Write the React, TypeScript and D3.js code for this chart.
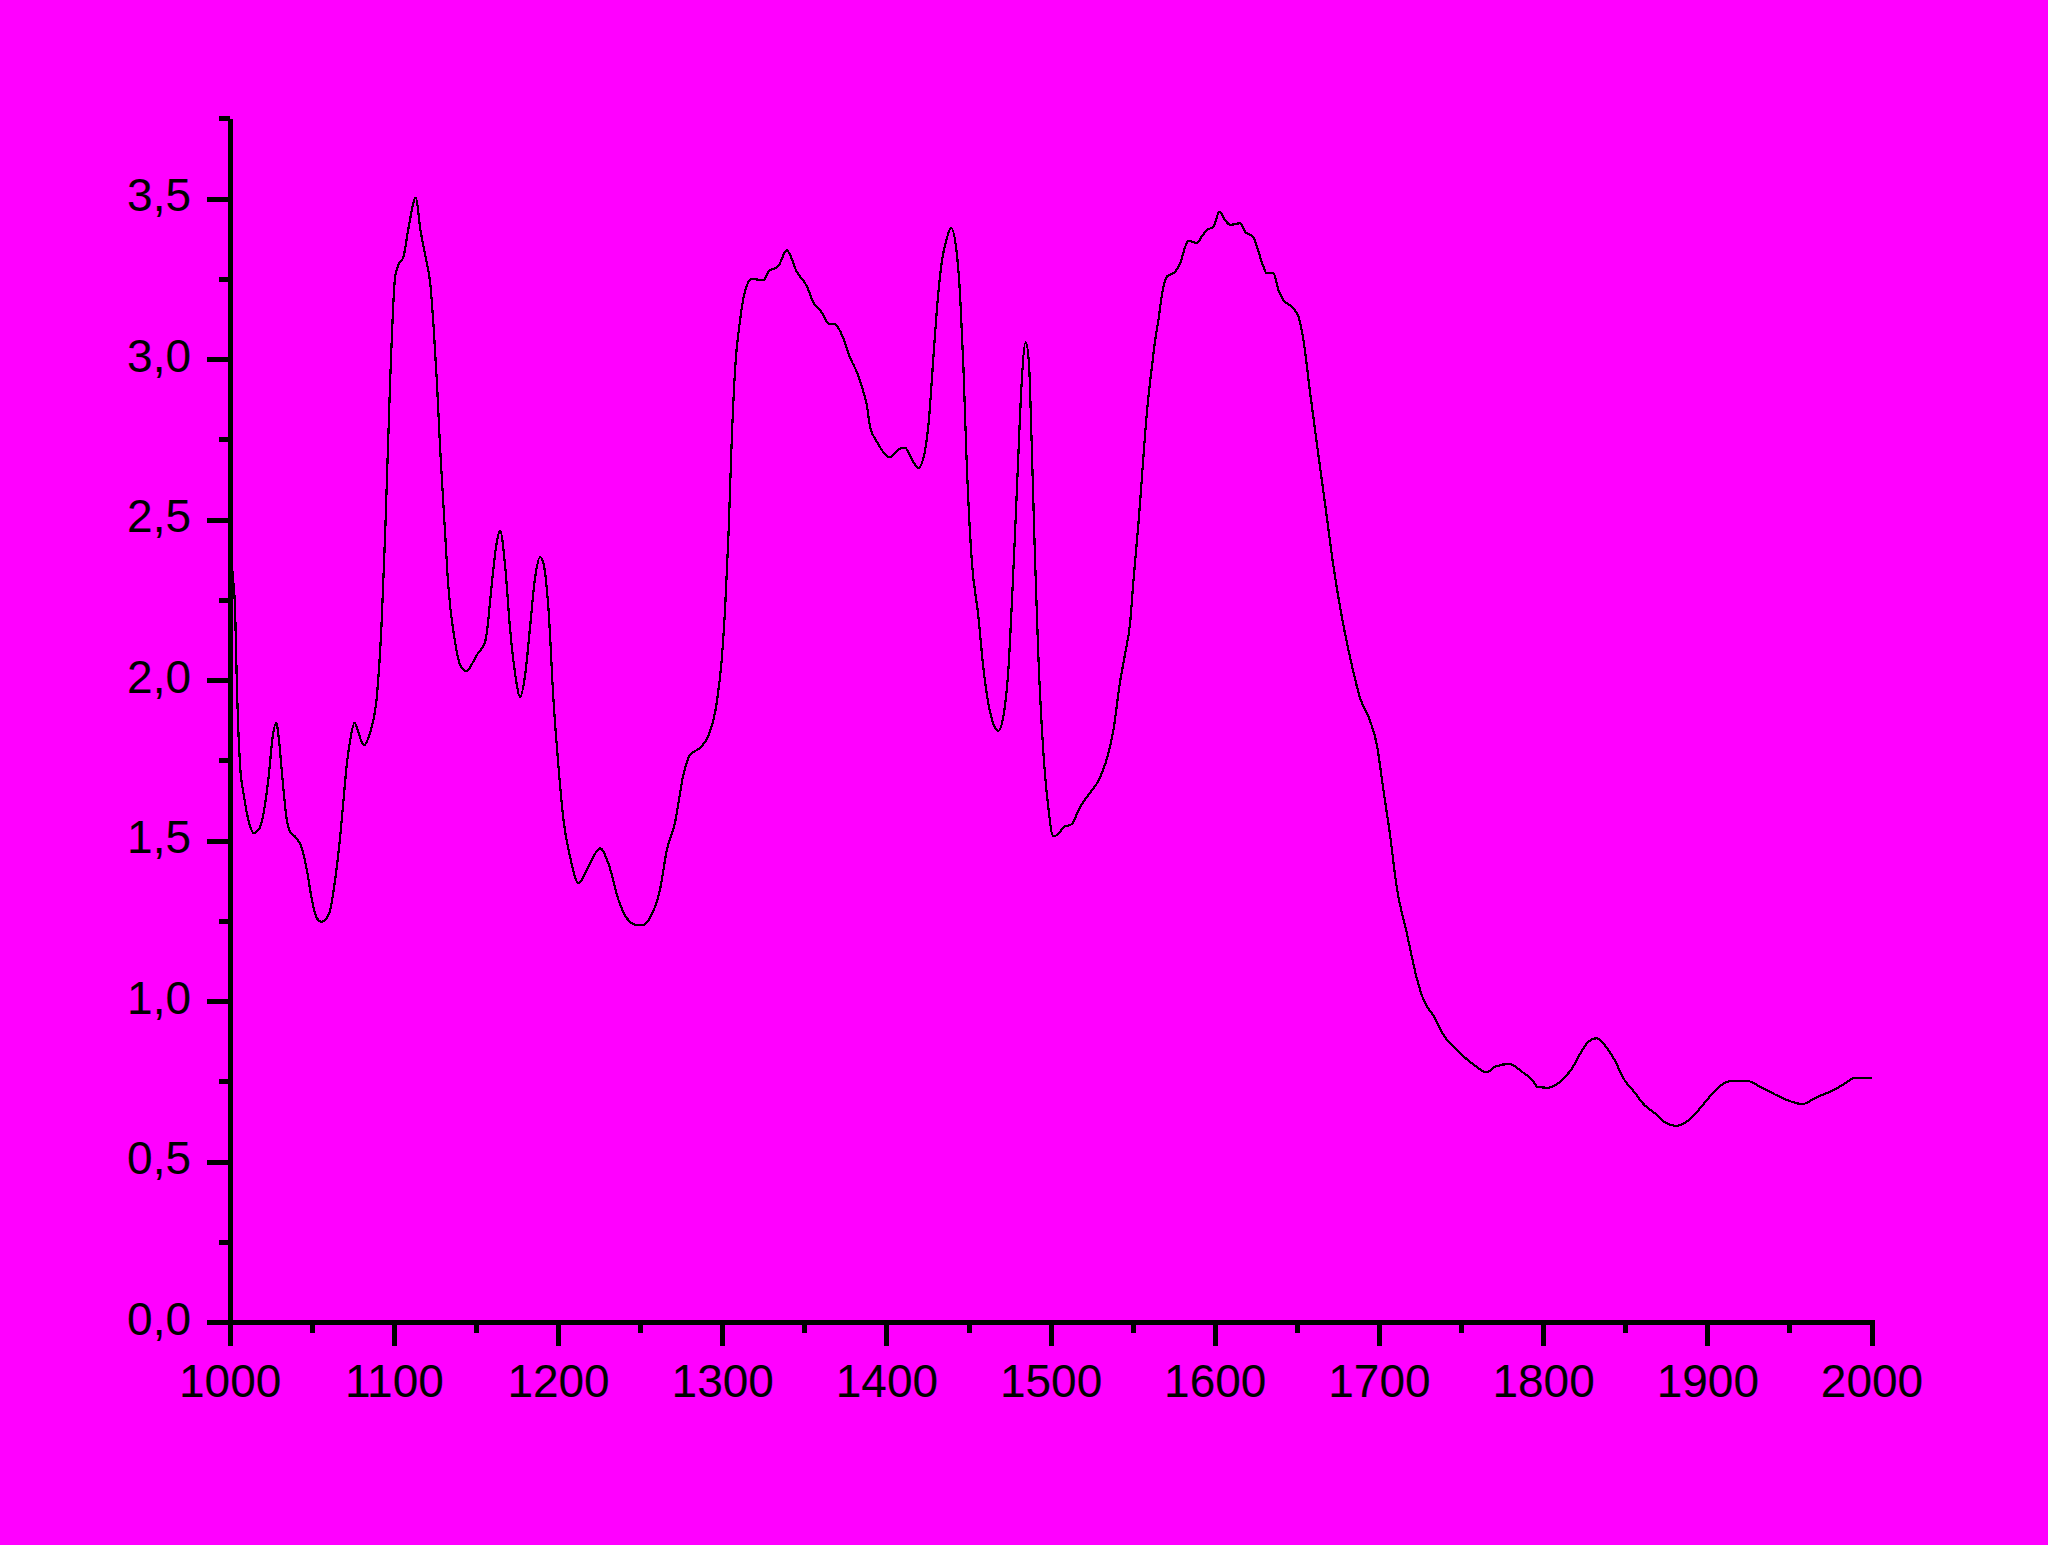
import React from "react";
import * as d3 from "d3";

const wavenumbers = [
  1000, 1001.5, 1003, 1004, 1006.1, 1008.1, 1011.1, 1014.2, 1017.8, 1020.3, 1023.4, 1026, 1028, 1030, 1031.4, 1034.5, 1037, 1039.6,
  1043.7, 1046.7, 1049.8, 1052.8, 1055.8, 1058, 1060.9, 1063.9, 1067, 1069, 1071.1, 1073.1, 1075.7, 1078, 1080, 1081.8, 1084, 1086.3,
  1089.3, 1092.4, 1094.4, 1097.4, 1100.5, 1102.5, 1105.5, 1108.6, 1113.1, 1115.7, 1119.8, 1121.8, 1123.8, 1125.9, 1127.9, 1130.9,
  1132.5, 1137, 1140, 1144.1, 1147, 1150.2, 1155.2, 1156.3, 1159.3, 1162, 1164.4, 1167.5, 1170.5, 1173.6, 1176.6, 1179.7, 1182.7,
  1185.7, 1188.8, 1190.8, 1193.9, 1196.9, 1200, 1203, 1207.1, 1212.2, 1217.2, 1221, 1225.3, 1230.4, 1236.5, 1241.6, 1247.7, 1252,
  1255.8, 1261.9, 1265.9, 1271, 1276.1, 1280.1, 1286.2, 1291.3, 1296.4, 1299.4, 1301.5, 1303.5, 1305.5, 1307.6, 1310.6, 1313.6,
  1317.7, 1324.8, 1327.8, 1333.9, 1339, 1345.1, 1351.2, 1355.3, 1360.4, 1364.4, 1368.5, 1373.6, 1377.6, 1381.7, 1384.7, 1387.8,
  1389.8, 1393.8, 1401.9, 1407, 1411.1, 1414.1, 1419.2, 1422.2, 1425.3, 1428.3, 1430.4, 1433.4, 1436.5, 1439.1, 1442.5, 1444.6,
  1446.6, 1448.6, 1451.6, 1455.7, 1458.8, 1462.8, 1467.9, 1470.9, 1474, 1476, 1478, 1480.1, 1482.1, 1484.5, 1486.5, 1488.1, 1490.2,
  1492.2, 1495.2, 1498.3, 1501.3, 1504, 1507.4, 1512.5, 1517.5, 1523.6, 1528.7, 1533.8, 1537.9, 1541.9, 1545, 1548.1, 1550.2,
  1553.2, 1555.2, 1557.3, 1559.3, 1561.4, 1563.4, 1565.4, 1567.5, 1570.5, 1575.6, 1578.6, 1581.7, 1583.7, 1588.8, 1591.7, 1594.9,
  1598.9, 1602.5, 1606, 1609, 1615.1, 1618.1, 1623.2, 1626.3, 1629.3, 1631.4, 1635.4, 1638.5, 1641.5, 1646.6, 1650.7, 1653.7,
  1657.7, 1661.8, 1666.9, 1671.9, 1677, 1682.1, 1688.2, 1694.3, 1698.3, 1702.4, 1706.5, 1710.5, 1716.6, 1722.5, 1726.9, 1733.3,
  1739.7, 1746.1, 1752.5, 1758.9, 1765.3, 1770.7, 1779.2, 1786.7, 1793.1, 1796.2, 1802.7, 1810.1, 1816.6, 1823, 1827.2, 1832.2,
  1837.9, 1843.3, 1848.6, 1855, 1861.4, 1867.9, 1874.2, 1880.6, 1887, 1893.4, 1902, 1908.4, 1915.9, 1923.4, 1931.9, 1940.5, 1949,
  1957.6, 1966.1, 1974.7, 1983.2, 1989.6, 1995, 2000,
];

const absorbance = [
  2.43, 2.33, 2.22, 2.0, 1.73, 1.65, 1.566, 1.525, 1.54, 1.587, 1.7, 1.83, 1.869, 1.8, 1.72, 1.566, 1.525, 1.514,
  1.478, 1.41, 1.317, 1.26, 1.249, 1.255, 1.286, 1.379, 1.514, 1.628, 1.743, 1.815, 1.869, 1.84, 1.81, 1.8, 1.82, 1.857,
  1.95, 2.2, 2.46, 2.93, 3.26, 3.295, 3.32, 3.41, 3.505, 3.41, 3.3, 3.24, 3.11, 2.93, 2.72, 2.46,
  2.32, 2.12, 2.05, 2.03, 2.05, 2.08, 2.12, 2.15, 2.3, 2.42, 2.467, 2.355, 2.16, 2.02, 1.95, 2.02, 2.17,
  2.32, 2.385, 2.365, 2.22, 1.94, 1.73, 1.566, 1.45, 1.369, 1.41, 1.45, 1.478, 1.43, 1.317, 1.26, 1.239, 1.24,
  1.262, 1.352, 1.471, 1.56, 1.709, 1.769, 1.791, 1.829, 1.933, 2.067, 2.231, 2.455, 2.752, 2.976, 3.125, 3.214,
  3.252, 3.247, 3.274, 3.292, 3.341, 3.274, 3.229, 3.177, 3.147, 3.113, 3.11, 3.065, 3.006, 2.961, 2.917, 2.857,
  2.79, 2.745, 2.696, 2.72, 2.726, 2.7, 2.663, 2.693, 2.797, 3.006, 3.155, 3.304, 3.378, 3.411, 3.334, 3.199,
  2.976, 2.678, 2.38, 2.201, 2.037, 1.903, 1.844, 1.888, 2.037, 2.231, 2.455, 2.708, 2.931, 3.054, 2.991, 2.752, 2.38,
  2.082, 1.784, 1.605, 1.516, 1.52, 1.543, 1.553, 1.605, 1.65, 1.687, 1.754, 1.844, 1.993, 2.082, 2.179, 2.314,
  2.49, 2.625, 2.771, 2.885, 2.978, 3.061, 3.124, 3.202, 3.259, 3.274, 3.3, 3.352, 3.371, 3.363, 3.383, 3.404,
  3.414, 3.461, 3.435, 3.42, 3.425, 3.399, 3.381, 3.337, 3.29, 3.269, 3.269, 3.217, 3.186, 3.165, 3.134, 3.061,
  2.9, 2.741, 2.55, 2.359, 2.201, 2.073, 1.946, 1.875, 1.803, 1.66, 1.517, 1.358, 1.215, 1.078, 1.005, 0.953,
  0.891, 0.855, 0.824, 0.798, 0.78, 0.798, 0.806, 0.782, 0.756, 0.735, 0.732, 0.751, 0.787, 0.844, 0.875, 0.886,
  0.86, 0.818, 0.761, 0.72, 0.678, 0.652, 0.623, 0.613, 0.626, 0.657, 0.709, 0.741, 0.754, 0.754, 0.735, 0.712, 0.692,
  0.681, 0.702, 0.72, 0.744, 0.763, 0.762, 0.761,
];

const xMajorTicks = [1000, 1100, 1200, 1300, 1400, 1500, 1600, 1700, 1800, 1900, 2000];
const xMinorTicks = [1050, 1150, 1250, 1350, 1450, 1550, 1650, 1750, 1850, 1950];
const yMajorTicks = [0, 0.5, 1.0, 1.5, 2.0, 2.5, 3.0, 3.5];
const yMinorTicks = [0.25, 0.75, 1.25, 1.75, 2.25, 2.75, 3.25, 3.75];

const W = 2048;
const H = 1545;
const BG = "#ff00ff";
const FONT = "'Liberation Sans', Arial, sans-serif";

export default function App() {
  const x = d3.scaleLinear().domain([1000, 2000]).range([230.2, 1872]);
  const y = d3.scaleLinear().domain([0, 3.5]).range([1322.7, 199.2]);

  const pts: [number, number][] = wavenumbers.map((w, i) => [w, absorbance[i]]);
  const line = d3
    .line<[number, number]>()
    .x((d) => x(d[0]))
    .y((d) => y(d[1]))
    .curve(d3.curveMonotoneX);

  const fmt = (v: number) => v.toFixed(1).replace(".", ",");
  const axisY = y(0);
  const axisX = x(1000);
  const yTop = y(3.75);

  return (
    <svg
      width={W}
      height={H}
      style={{ position: "absolute", left: 0, top: 0, background: BG, display: "block" }}
    >
      <rect x={0} y={0} width={W} height={H} fill={BG} />
      {/* data line */}
      <path
        d={line(pts) || ""}
        fill="none"
        stroke="#000"
        strokeWidth={2.2}
        strokeLinejoin="round"
        shapeRendering="crispEdges"
      />

      {/* y axis */}
      <line x1={axisX} x2={axisX} y1={yTop} y2={axisY + 2.5} stroke="#000" strokeWidth={5} shapeRendering="crispEdges" />
      {yMajorTicks.map((t) => (
        <g key={"ym" + t}>
          <line x1={206.7} x2={axisX} y1={y(t)} y2={y(t)} stroke="#000" strokeWidth={5} shapeRendering="crispEdges" />
          <text x={191} y={y(t) + 12} textAnchor="end" fontFamily={FONT} fontSize={46} fill="#000">
            {fmt(t)}
          </text>
        </g>
      ))}
      {yMinorTicks.map((t) => (
        <line key={"yn" + t} x1={219} x2={axisX} y1={y(t)} y2={y(t)} stroke="#000" strokeWidth={5} shapeRendering="crispEdges" />
      ))}

      {/* x axis */}
      <line x1={axisX - 2.5} x2={x(2000) + 2.5} y1={axisY} y2={axisY} stroke="#000" strokeWidth={5} shapeRendering="crispEdges" />
      {xMajorTicks.map((t) => (
        <g key={"xm" + t}>
          <line x1={x(t)} x2={x(t)} y1={axisY} y2={1345.7} stroke="#000" strokeWidth={5} shapeRendering="crispEdges" />
          <text x={x(t)} y={1397.3} textAnchor="middle" fontFamily={FONT} fontSize={46} fill="#000">
            {t}
          </text>
        </g>
      ))}
      {xMinorTicks.map((t) => (
        <line key={"xn" + t} x1={x(t)} x2={x(t)} y1={axisY} y2={1333.3} stroke="#000" strokeWidth={5} shapeRendering="crispEdges" />
      ))}
    </svg>
  );
}
